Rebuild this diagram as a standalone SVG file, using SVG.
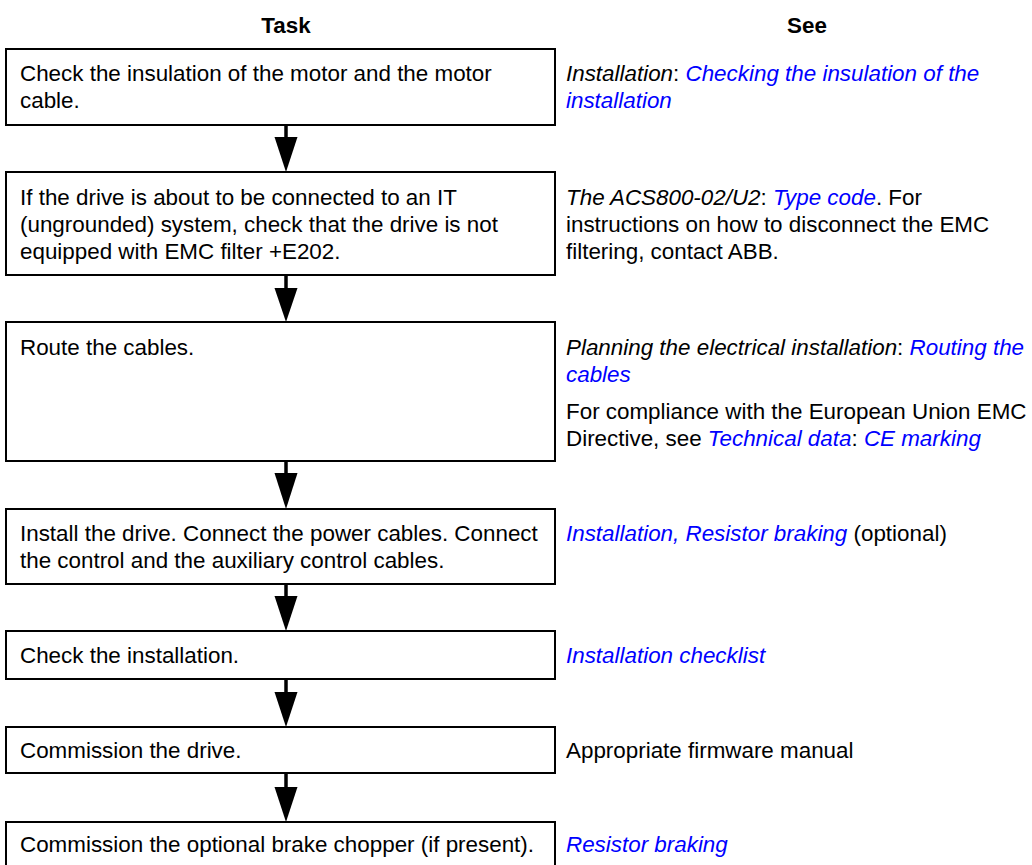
<svg xmlns="http://www.w3.org/2000/svg" width="1032" height="865" viewBox="0 0 1032 865">
<style>
text{font-family:"Liberation Sans",Arial,sans-serif;font-size:22.4px;fill:#000}
.h{font-weight:bold;text-anchor:middle}
.i{font-style:italic}
.b{fill:#0000ff;font-style:italic}
.box{fill:#fff;stroke:#000;stroke-width:2}
.stem{stroke:#000;stroke-width:3.5}
.head{fill:#000}
</style>
<rect width="1032" height="865" fill="#fff"/>
<g id="header">
<text class="h" x="286" y="33">Task</text>
<text class="h" x="807" y="33">See</text>
</g>
<g id="connectors">
<line class="stem" x1="286" y1="121" x2="286" y2="138"/><polygon class="head" points="274.5,137 297.5,137 286,172"/>
<line class="stem" x1="286" y1="271" x2="286" y2="289"/><polygon class="head" points="274.5,288 297.5,288 286,322"/>
<line class="stem" x1="286" y1="457" x2="286" y2="474"/><polygon class="head" points="274.5,473 297.5,473 286,509"/>
<line class="stem" x1="286" y1="580" x2="286" y2="597"/><polygon class="head" points="274.5,596 297.5,596 286,631"/>
<line class="stem" x1="286" y1="675" x2="286" y2="693"/><polygon class="head" points="274.5,692 297.5,692 286,727"/>
<line class="stem" x1="286" y1="769" x2="286" y2="788"/><polygon class="head" points="274.5,787 297.5,787 286,822"/>
</g>
<g id="step1">
<rect class="box" x="6" y="49" width="549" height="76"/>
<text x="20" y="81">Check the insulation of the motor and the motor</text>
<text x="20" y="108">cable.</text>
<text x="566" y="81"><tspan class="i">Installation</tspan>: <tspan class="b">Checking the insulation of the</tspan></text>
<text x="566" y="108" class="b">installation</text>
</g>
<g id="step2">
<rect class="box" x="6" y="172" width="549" height="103"/>
<text x="20" y="205">If the drive is about to be connected to an IT</text>
<text x="20" y="232">(ungrounded) system, check that the drive is not</text>
<text x="20" y="259">equipped with EMC filter +E202.</text>
<text x="566" y="205"><tspan class="i">The ACS800-02/U2</tspan>: <tspan class="b">Type code</tspan>. For</text>
<text x="566" y="232">instructions on how to disconnect the EMC</text>
<text x="566" y="259">filtering, contact ABB.</text>
</g>
<g id="step3">
<rect class="box" x="6" y="322" width="549" height="139"/>
<text x="20" y="355">Route the cables.</text>
<text x="566" y="355"><tspan class="i">Planning the electrical installation</tspan>: <tspan class="b">Routing the</tspan></text>
<text x="566" y="382" class="b">cables</text>
<text x="566" y="419">For compliance with the European Union EMC</text>
<text x="566" y="446">Directive, see <tspan class="b">Technical data</tspan>: <tspan class="b">CE marking</tspan></text>
</g>
<g id="step4">
<rect class="box" x="6" y="509" width="549" height="75"/>
<text x="20" y="541">Install the drive. Connect the power cables. Connect</text>
<text x="20" y="568">the control and the auxiliary control cables.</text>
<text x="566" y="541"><tspan class="b">Installation, Resistor braking</tspan> (optional)</text>
</g>
<g id="step5">
<rect class="box" x="6" y="631" width="549" height="48"/>
<text x="20" y="663">Check the installation.</text>
<text x="566" y="663" class="b">Installation checklist</text>
</g>
<g id="step6">
<rect class="box" x="6" y="727" width="549" height="46"/>
<text x="20" y="758">Commission the drive.</text>
<text x="566" y="758">Appropriate firmware manual</text>
</g>
<g id="step7">
<rect class="box" x="6" y="822" width="549" height="50"/>
<text x="20" y="852">Commission the optional brake chopper (if present).</text>
<text x="566" y="852" class="b">Resistor braking</text>
</g>
</svg>
